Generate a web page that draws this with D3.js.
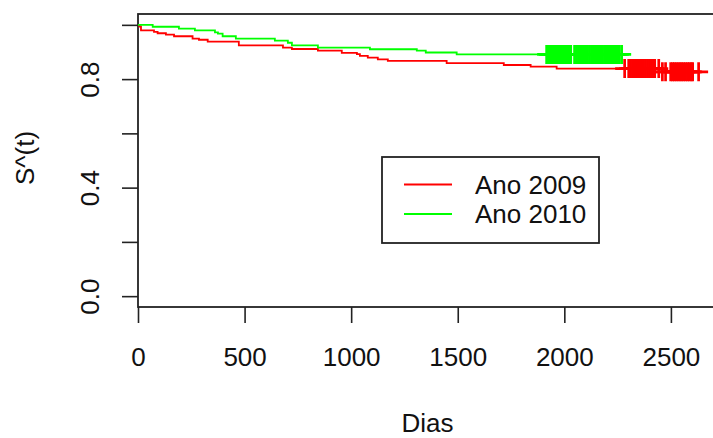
<!DOCTYPE html>
<html>
<head>
<meta charset="utf-8">
<script src="https://cdn.jsdelivr.net/npm/d3@7"></script>
<style>
  html, body { margin: 0; padding: 0; background: #fff; }
  svg { display: block; font-family: "Liberation Sans", Arial, sans-serif; }
</style>
</head>
<body>
<div id="chart"></div>
<script>
// ----------------------------------
// DATA
// ----------------------------------

// Ano 2009 : event times and survival after each drop
const red_times = [0, 7, 14, 75, 92, 131, 169, 256, 286, 327, 473, 680, 722, 844, 956, 1027, 1041, 1078, 1125, 1172, 1448, 1716, 1842, 1964, 2455];
const red_surv  = [1, 0.994, 0.980, 0.974, 0.969, 0.964, 0.958, 0.949, 0.945, 0.938, 0.924, 0.916, 0.911, 0.905, 0.897, 0.892, 0.886, 0.879, 0.873, 0.867, 0.859, 0.852, 0.846, 0.839, 0.827];
const red_censor = [2283, 2302, 2311, 2320, 2328, 2337, 2346, 2355, 2364, 2372, 2381, 2390, 2399, 2408, 2416, 2424,
                    2443, 2460, 2475, 2499, 2508, 2516, 2525, 2534, 2543, 2551, 2560, 2569, 2578, 2586, 2595, 2602, 2630];

// Ano 2010
const green_times = [0, 69, 192, 267, 361, 375, 397, 459, 642, 703, 722, 844, 1088, 1308, 1350, 1495];
const green_surv  = [1, 0.993, 0.986, 0.980, 0.972, 0.968, 0.958, 0.949, 0.942, 0.934, 0.924, 0.916, 0.910, 0.905, 0.898, 0.891];
const green_censor = [1917, 1926, 1934, 1943, 1952, 1960, 1969, 1978, 1986, 1995, 2004, 2013, 2021, 2030,
                      2048, 2057, 2066, 2074, 2083, 2092, 2101, 2109, 2118, 2127, 2136, 2144, 2153, 2162, 2171,
                      2179, 2188, 2197, 2206, 2214, 2223, 2232, 2241, 2249, 2258, 2269];

const series_names = ['Ano 2009', 'Ano 2010'];
const series_colors = ['#ff0000', '#00ff00'];

const x_ticks = [0, 500, 1000, 1500, 2000, 2500];
const y_ticks = [0, 0.2, 0.4, 0.6, 0.8, 1.0];
const y_labeled = [0, 0.4, 0.8];

// ----------------------------------
// SETUP
// ----------------------------------

const width = 713, height = 438;
const plot = { left: 138, top: 14, right: 721, bottom: 307 };
const font_size = 26;

const svg = d3.select('#chart').append('svg')
    .attr('width', width)
    .attr('height', height);

// R style: x starts at 0 and adds 4% on the right, y gets 4% each side
const xScale = d3.scaleLinear()
    .domain([0, 2735])
    .range([plot.left, plot.right]);

const yScale = d3.scaleLinear()
    .domain([-0.04, 1.04])
    .range([plot.bottom, plot.top]);

// ----------------------------------
// AXES
// ----------------------------------

const xAxis = d3.axisBottom(xScale)
    .tickValues(x_ticks)
    .tickSize(16)
    .tickPadding(25)
    .tickFormat(d3.format('d'));

const gx = svg.append('g')
    .attr('class', 'x axis')
    .attr('transform', `translate(0,${plot.bottom})`)
    .call(xAxis);
gx.select('.domain').remove();
gx.selectAll('.tick line').attr('stroke', '#222').attr('stroke-width', 1.6);
gx.selectAll('.tick text')
    .attr('fill', '#111')
    .style('font-size', font_size + 'px')
    .style('font-family', '"Liberation Sans", Arial, sans-serif');

const yAxis = d3.axisLeft(yScale)
    .tickValues(y_ticks)
    .tickSize(16)
    .tickFormat(d => y_labeled.some(v => Math.abs(v - d) < 1e-9) ? d3.format('.1f')(d) : '');

const gy = svg.append('g')
    .attr('class', 'y axis')
    .attr('transform', `translate(${plot.left},0)`)
    .call(yAxis);
gy.select('.domain').remove();
gy.selectAll('.tick line').attr('stroke', '#222').attr('stroke-width', 1.6);
gy.selectAll('.tick text')
    .attr('x', null)
    .attr('dy', null)
    .attr('fill', '#111')
    .attr('text-anchor', 'middle')
    .attr('transform', `translate(${99 - plot.left},0) rotate(-90)`)
    .style('font-size', font_size + 'px')
    .style('font-family', '"Liberation Sans", Arial, sans-serif');

// the box around the plot region
svg.append('rect')
    .attr('x', plot.left)
    .attr('y', plot.top)
    .attr('width', plot.right - plot.left)
    .attr('height', plot.bottom - plot.top)
    .attr('fill', 'none')
    .attr('stroke', '#222')
    .attr('stroke-width', 1.8);

// ----------------------------------
// CURVES
// ----------------------------------

const groups = [
    { times: red_times, surv: red_surv, censor: red_censor, color: series_colors[0] },
    { times: green_times, surv: green_surv, censor: green_censor, color: series_colors[1] }
];

const stepLine = d3.line()
    .x(d => xScale(d[0]))
    .y(d => yScale(d[1]))
    .curve(d3.curveStepAfter);

const survAt = (g, t) => g.surv[d3.bisectRight(g.times, t) - 1];

groups.forEach(g => {
    const last = d3.max(g.censor);
    const pts = g.times.map((t, i) => [t, g.surv[i]]);
    pts.push([last, survAt(g, last)]);

    svg.append('path')
        .datum(pts)
        .attr('d', stepLine)
        .attr('fill', 'none')
        .attr('stroke', g.color)
        .attr('stroke-width', 1.8);

    // censoring marks, R pch = 3
    const half = 9.5;
    svg.append('g').selectAll('path')
        .data(g.censor)
        .join('path')
        .attr('d', t => {
            const cx = xScale(t), cy = yScale(survAt(g, t));
            return `M${cx - half},${cy}H${cx + half}M${cx},${cy - half}V${cy + half}`;
        })
        .attr('fill', 'none')
        .attr('stroke', g.color)
        .attr('stroke-width', 2.7);
});

// ----------------------------------
// LABELS AND LEGEND
// ----------------------------------

svg.append('text')
    .text('Dias')
    .attr('x', (plot.left + plot.right) / 2 - 2)
    .attr('y', 432)
    .attr('text-anchor', 'middle')
    .attr('fill', '#111')
    .style('font-size', font_size + 'px');

svg.append('text')
    .text('S^(t)')
    .attr('transform', `translate(34,158) rotate(-90)`)
    .attr('text-anchor', 'middle')
    .attr('fill', '#111')
    .style('font-size', font_size + 'px');

const legend = svg.append('g').attr('class', 'legend');
legend.append('rect')
    .attr('x', 382).attr('y', 157)
    .attr('width', 217).attr('height', 86)
    .attr('fill', '#fff')
    .attr('stroke', '#222')
    .attr('stroke-width', 1.8);

series_names.forEach((name, i) => {
    const ly = 184.5 + i * 29.5;
    legend.append('line')
        .attr('x1', 404).attr('x2', 452)
        .attr('y1', ly).attr('y2', ly)
        .attr('stroke', series_colors[i])
        .attr('stroke-width', 1.8);
    legend.append('text')
        .text(name)
        .attr('x', 475)
        .attr('y', ly + 9)
        .attr('fill', '#111')
        .style('font-size', font_size + 'px');
});
</script>
</body>
</html>
